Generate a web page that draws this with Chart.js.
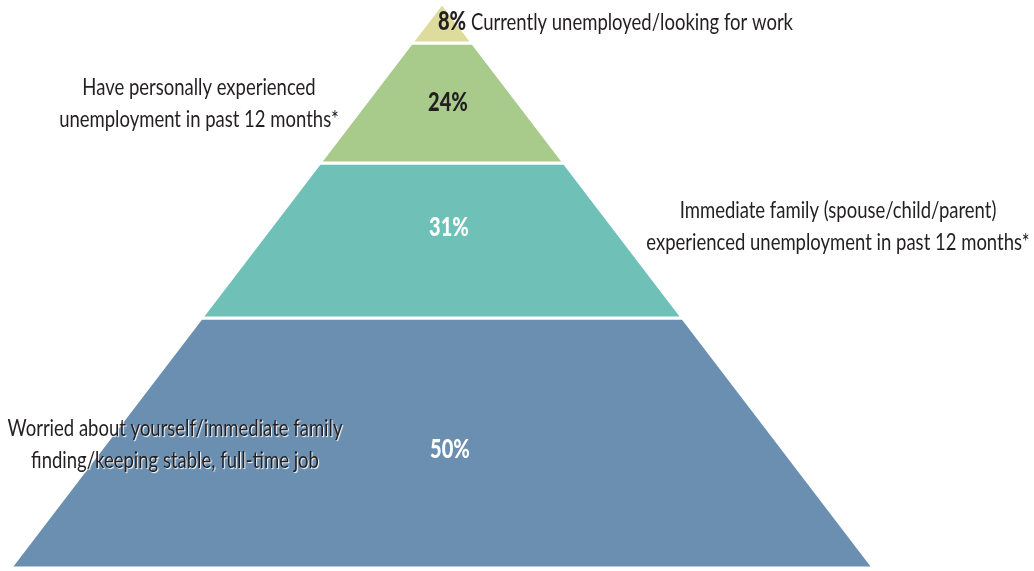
<!DOCTYPE html>
<html lang="en">
<head>
    <meta charset="UTF-8">
    <title>Unemployment pyramid</title>
    <script src="https://cdn.jsdelivr.net/npm/chart.js"></script>
    <style>
        body {
            margin: 0;
            padding: 0;
            background-color: #fff;
        }
        .chart-box {
            width: 1034px;
            height: 571px;
        }
    </style>
</head>
<body>
    <div class="chart-box">
        <canvas id="pyramidChart"></canvas>
    </div>

    <script>
        // Layers from the top of the pyramid down
        const categories = [
            'Currently unemployed/looking for work',
            'Have personally experienced unemployment in past 12 months*',
            'Immediate family (spouse/child/parent) experienced unemployment in past 12 months*',
            'Worried about yourself/immediate family finding/keeping stable, full-time job'
        ];
        const percents = [8, 24, 31, 50];
        const layerColors = ['#dedc9c', '#a8ca8b', '#6fc1b8', '#6b8fb1'];

        // Label text and where it sits (pixels)
        const pctColors = ['#231f20', '#231f20', '#ffffff', '#ffffff'];
        const pctPos = [[438, 22, 'left'], [448, 103, 'center'], [449, 228, 'center'], [450, 450, 'center']];
        const sideLines = [
            ['Currently unemployed/looking for work'],
            ['Have personally experienced', 'unemployment in past 12 months*'],
            ['Immediate family (spouse/child/parent)', 'experienced unemployment in past 12 months*'],
            ['Worried about yourself/immediate family', 'finding/keeping stable, full-time job']
        ];
        const sidePos = [[471, 22, 'left'], [199, 87, 'center'], [838, 210, 'center'], [175, 428, 'center']];

        const slope = 0.764;  // half width per unit of depth
        const font = 'Lato, "DejaVu Sans Condensed", sans-serif';

        // One closed trapezoid per layer, stacked by value
        let depth = 0;
        const datasets = percents.map((v, i) => {
            const top = depth;
            const bottom = depth + v;
            depth = bottom;
            return {
                label: categories[i],
                data: [
                    { x: -slope * top, y: top },
                    { x: slope * top, y: top },
                    { x: slope * bottom, y: bottom },
                    { x: -slope * bottom, y: bottom },
                    { x: -slope * top, y: top }
                ],
                showLine: true,
                fill: 'shape',
                backgroundColor: layerColors[i],
                borderColor: '#ffffff',
                borderWidth: 3,
                pointRadius: 0,
                tension: 0,
                clip: false
            };
        });
        const total = depth;

        // Condensed look: squeeze text horizontally
        function drawText(ctx, text, x, y, align, sx) {
            ctx.save();
            ctx.translate(x, y);
            ctx.scale(sx, 1);
            ctx.textAlign = align;
            ctx.fillText(text, 0, 0);
            ctx.restore();
        }

        const labelPlugin = {
            id: 'pyramidLabels',
            afterDatasetsDraw(chart) {
                const ctx = chart.ctx;
                ctx.save();
                ctx.textBaseline = 'middle';
                ctx.font = '24px ' + font;
                const sx = 322 / ctx.measureText(sideLines[0][0]).width;
                percents.forEach((v, i) => {
                    const [x, y, align] = pctPos[i];
                    ctx.font = '900 26px ' + font;
                    ctx.fillStyle = pctColors[i];
                    drawText(ctx, v + '%', x, y, align, sx);
                });
                sideLines.forEach((lines, i) => {
                    const [x, y, align] = sidePos[i];
                    ctx.font = '24px ' + font;
                    lines.forEach((line, j) => {
                        if (i === 3) {
                            ctx.shadowColor = '#ffffff';
                            ctx.shadowOffsetX = 1;
                            ctx.shadowOffsetY = 1;
                            ctx.shadowBlur = 1;
                        }
                        ctx.fillStyle = '#231f20';
                        drawText(ctx, line, x, y + j * 32, align, sx);
                        ctx.shadowColor = 'transparent';
                    });
                });
                ctx.restore();
            }
        };

        const ctxPyramid = document.getElementById('pyramidChart').getContext('2d');
        const pyramidChart = new Chart(ctxPyramid, {
            type: 'scatter',
            data: { datasets: datasets },
            options: {
                responsive: true,
                maintainAspectRatio: false,
                animation: false,
                layout: { padding: { top: 3, bottom: 3, left: 0, right: 0 } },
                scales: {
                    x: { type: 'linear', min: -88.4, max: 118.4, display: false },
                    y: { type: 'linear', min: 0, max: total, reverse: true, display: false }
                },
                plugins: {
                    legend: { display: false },
                    tooltip: { enabled: false }
                }
            },
            plugins: [labelPlugin]
        });
    </script>
</body>
</html>
